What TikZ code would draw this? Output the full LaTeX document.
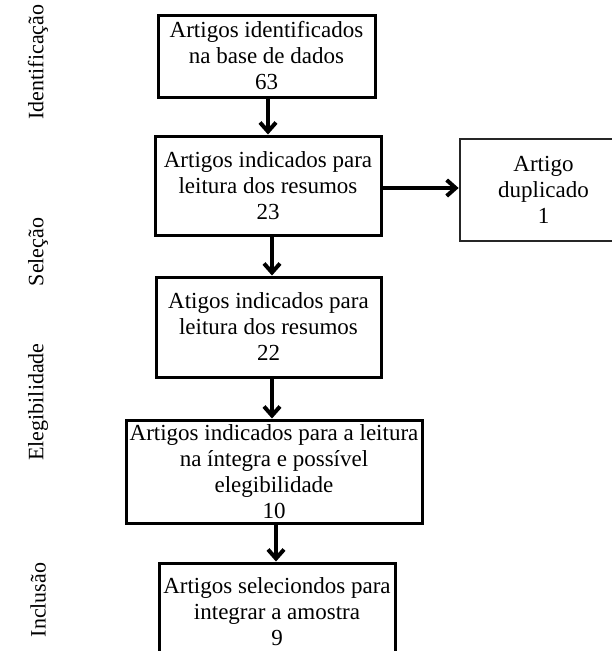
\documentclass[tikz,border=0pt]{standalone}
\usepackage{fontspec}
\setmainfont{Liberation Serif}
\usetikzlibrary{arrows.meta}
\begin{document}
\begin{tikzpicture}[x=1pt,y=-1pt,
  box/.style={draw, line width=3pt, align=center, inner sep=0pt,
    font=\fontsize{23}{26}\selectfont},
  phase/.style={rotate=90, font=\fontsize{22}{26}\selectfont},
  flow/.style={line width=4pt, -{Straight Barb[length=9pt,width=16pt]}}]
 \useasboundingbox (0,0) rectangle (612,651);
 % fases
 \node[phase] (fident) at (38,62) {Identificação};
 \node[phase] (fsel) at (38,252) {Seleção};
 \node[phase] (fele) at (38,402) {Elegibilidade};
 \node[phase] (finc) at (38,600) {Inclusão};
 % caixas
 \node[box, minimum width=217pt, minimum height=82pt] (ident) at (266.5,56) {Artigos identificados\\na base de dados\\63};
 \node[box, minimum width=226pt, minimum height=99pt] (sel) at (268,185.5) {Artigos indicados para\\leitura dos resumos\\23};
 \node[box, draw=black!85, line width=2.7pt, minimum width=167pt, minimum height=102pt] (dup) at (543.5,190) {Artigo\\duplicado\\1};
 \node[box, minimum width=225pt, minimum height=100pt] (resum) at (268.5,327) {Atigos indicados para\\leitura dos resumos\\22};
 \node[box, minimum width=296pt, minimum height=103pt] (elig) at (274,471.5) {Artigos indicados para a leitura\\na íntegra e possível\\elegibilidade\\10};
 \node[box, minimum width=236pt, minimum height=98pt] (incl) at (277,612) {Artigos seleciondos para\\integrar a amostra\\9};
 % setas
 \draw[flow] ([xshift=1.5pt]ident.south) -- ([xshift=1.5pt]ident.south |- sel.north);
 \draw[flow] ([xshift=4pt]sel.south) -- ([xshift=4pt]sel.south |- resum.north);
 \draw[flow] ([xshift=3.5pt]resum.south) -- ([xshift=3.5pt]resum.south |- elig.north);
 \draw[flow] ([xshift=2pt]elig.south) -- ([xshift=2pt]elig.south |- incl.north);
 \draw[flow] ([yshift=-2.5pt]sel.east) -- ([yshift=-2.5pt]sel.east -| dup.west);
\end{tikzpicture}
\end{document}
